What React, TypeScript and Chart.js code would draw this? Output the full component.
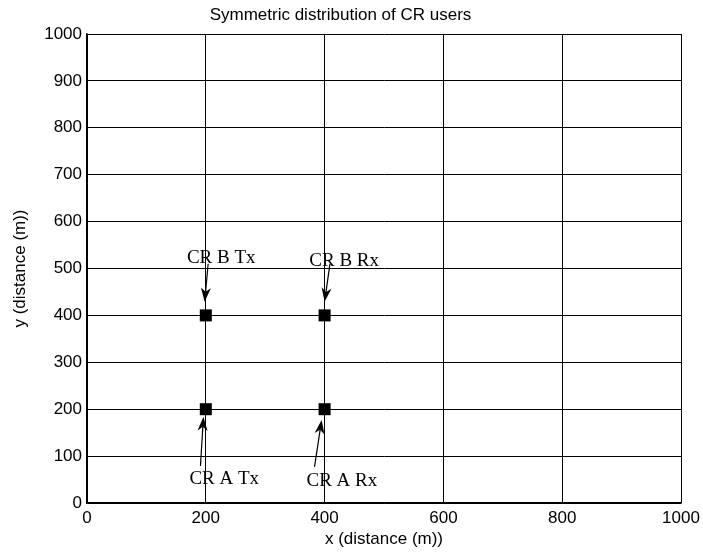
import { useEffect, useRef } from 'react';
import { Chart, registerables } from 'chart.js';

Chart.register(...registerables);

const TITLE = 'Symmetric distribution of CR users';
const X_LABEL = 'x (distance (m))';
const Y_LABEL = 'y (distance (m))';

const userX = [200, 400, 200, 400];
const userY = [200, 200, 400, 400];

const xTicks = [0, 200, 400, 600, 800, 1000];
const yTicks = [0, 100, 200, 300, 400, 500, 600, 700, 800, 900, 1000];

const annLabels = ['CR B Tx', 'CR B Rx', 'CR A Tx', 'CR A Rx'];
const annTextX = [226, 433, 231, 429];
const annTextY = [522, 516, 51, 47];
const arrowFromX = [204, 409, 191, 383];
const arrowFromY = [510, 510, 79, 77];
const arrowToX = [198, 400, 196, 395];
const arrowToY = [429, 429, 184, 177];

const SANS = '"Liberation Sans", Arial, sans-serif';
const SERIF = '"Liberation Serif", "Times New Roman", serif';

const annotationPlugin = {
  id: 'crAnnotations',
  afterDatasetsDraw(chart: any) {
    const ctx = chart.ctx as CanvasRenderingContext2D;
    const xs = chart.scales.x;
    const ys = chart.scales.y;
    ctx.save();
    ctx.strokeStyle = '#000';
    ctx.fillStyle = '#000';
    ctx.lineWidth = 1.2;
    for (let i = 0; i < annLabels.length; i++) {
      const x0 = xs.getPixelForValue(arrowFromX[i]);
      const y0 = ys.getPixelForValue(arrowFromY[i]);
      const x1 = xs.getPixelForValue(arrowToX[i]);
      const y1 = ys.getPixelForValue(arrowToY[i]);
      const dx = x1 - x0;
      const dy = y1 - y0;
      const len = Math.hypot(dx, dy);
      const ux = dx / len;
      const uy = dy / len;
      const nx = -uy;
      const ny = ux;
      const L = 14;
      const W = 5;
      const notch = 4;
      ctx.beginPath();
      ctx.moveTo(x0, y0);
      ctx.lineTo(x1 - ux * (L - notch), y1 - uy * (L - notch));
      ctx.stroke();
      ctx.beginPath();
      ctx.moveTo(x1, y1);
      ctx.lineTo(x1 - ux * L + nx * W, y1 - uy * L + ny * W);
      ctx.lineTo(x1 - ux * (L - notch), y1 - uy * (L - notch));
      ctx.lineTo(x1 - ux * L - nx * W, y1 - uy * L - ny * W);
      ctx.closePath();
      ctx.fill();

      ctx.font = `19px ${SERIF}`;
      ctx.textAlign = 'center';
      ctx.textBaseline = 'middle';
      ctx.fillText(annLabels[i], xs.getPixelForValue(annTextX[i]), ys.getPixelForValue(annTextY[i]));
    }
    ctx.restore();
  },
};

export default function App() {
  const canvasRef = useRef<HTMLCanvasElement | null>(null);

  useEffect(() => {
    document.body.style.margin = '0';
    const canvas = canvasRef.current;
    if (!canvas) return;
    const chart = new Chart(canvas, {
      type: 'scatter',
      data: {
        datasets: [
          {
            data: userX.map((x, i) => ({ x, y: userY[i] })),
            pointStyle: 'rect',
            pointRadius: 8.5,
            pointHoverRadius: 8.5,
            backgroundColor: '#000',
            borderColor: '#000',
            borderWidth: 0,
          },
        ],
      },
      options: {
        animation: false,
        responsive: false,
        maintainAspectRatio: false,
        devicePixelRatio: 1,
        layout: { padding: { left: 0, right: 22, top: 0, bottom: 0 } },
        plugins: {
          legend: { display: false },
          tooltip: { enabled: false },
          title: {
            display: true,
            text: TITLE,
            color: '#000',
            font: { family: SANS, size: 17, weight: 'normal' },
            padding: { top: 5, bottom: 8.6 },
          },
        },
        scales: {
          x: {
            type: 'linear',
            min: 0,
            max: 1000,
            afterBuildTicks: (s: any) => {
              s.ticks = xTicks.map((v) => ({ value: v }));
            },
            afterFit: (s: any) => {
              s.height = 53;
              s.paddingRight = 0;
              s.paddingLeft = 0;
            },
            ticks: {
              color: '#000',
              font: { family: SANS, size: 17 },
              padding: 5,
              maxRotation: 0,
              autoSkip: false,
              callback: (v: any) => String(v),
            },
            grid: { color: '#000', lineWidth: 1, drawTicks: false },
            border: { display: true, color: '#000', width: 1.5 },
            title: {
              display: true,
              text: X_LABEL,
              color: '#000',
              font: { family: SANS, size: 17 },
              padding: { top: 0, bottom: 6 },
            },
          },
          y: {
            type: 'linear',
            min: 0,
            max: 1000,
            afterBuildTicks: (s: any) => {
              s.ticks = yTicks.map((v) => ({ value: v }));
            },
            afterFit: (s: any) => {
              s.width = 87;
            },
            ticks: {
              color: '#000',
              font: { family: SANS, size: 17 },
              padding: 5,
              autoSkip: false,
              callback: (v: any) => String(v),
            },
            grid: { color: '#000', lineWidth: 1, drawTicks: false },
            border: { display: true, color: '#000', width: 1.5 },
            title: {
              display: true,
              text: Y_LABEL,
              color: '#000',
              font: { family: SANS, size: 17 },
              padding: { top: 10, bottom: 0 },
            },
          },
        },
      },
      plugins: [annotationPlugin],
    } as any);
    return () => chart.destroy();
  }, []);

  return (
    <canvas
      ref={canvasRef}
      width={703}
      height={556}
      style={{ display: 'block', width: 703, height: 556 }}
    />
  );
}
